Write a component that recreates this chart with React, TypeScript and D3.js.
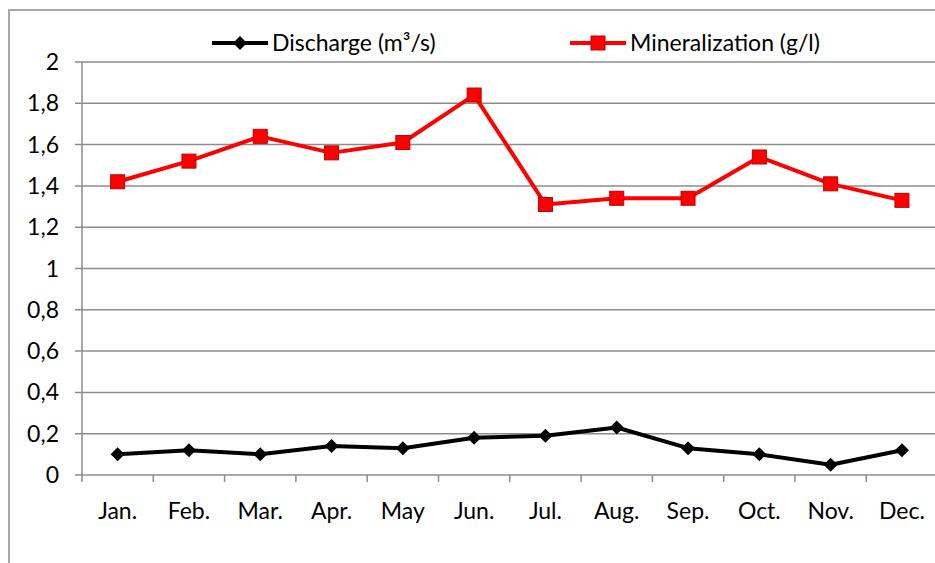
import React from "react";
import * as d3 from "d3";

const months = ["Jan.", "Feb.", "Mar.", "Apr.", "May", "Jun.", "Jul.", "Aug.", "Sep.", "Oct.", "Nov.", "Dec."];
const discharge = [0.10, 0.12, 0.10, 0.14, 0.13, 0.18, 0.19, 0.23, 0.13, 0.10, 0.05, 0.12];
const mineralization = [1.42, 1.52, 1.64, 1.56, 1.61, 1.84, 1.31, 1.34, 1.34, 1.54, 1.41, 1.33];
const yTicks = [0, 0.2, 0.4, 0.6, 0.8, 1, 1.2, 1.4, 1.6, 1.8, 2];

const W = 935, H = 563;
const left = 82, right = 937.6, top = 62, bottom = 475;
const font = "Lato, 'Open Sans', sans-serif";
const fs = 23;

export default function App() {
  const x = d3.scaleBand<string>().domain(months).range([left, right]);
  const y = d3.scaleLinear().domain([0, 2]).range([bottom, top]);
  const cx = (m: string) => (x(m) as number) + x.bandwidth() / 2;
  const line = d3.line<number>().x((_, i) => cx(months[i])).y((d) => y(d));
  const fmt = (v: number) => String(Math.round(v * 10) / 10).replace(".", ",");
  const boundaries = d3.range(13).map((i) => left + i * x.bandwidth());

  return (
    <svg width={W} height={H} style={{ position: "absolute", left: 0, top: 0, background: "#fff" }}>
      <rect x={9} y={10} width={W + 10} height={H + 10} fill="#fff" stroke="#8c8c8c" strokeWidth={1.5} />
      {yTicks.map((t) => (
        <g key={t}>
          <line x1={left - 7} x2={W} y1={y(t)} y2={y(t)} stroke="#8c8c8c" strokeWidth={1.5} />
          <text x={59} y={y(t)} dy="0.35em" textAnchor="end" fontFamily={font} fontSize={fs} fill="#000">
            {fmt(t)}
          </text>
        </g>
      ))}
      <line x1={left} x2={left} y1={top} y2={bottom} stroke="#8c8c8c" strokeWidth={1.5} />
      {boundaries.map((b, i) => (
        <line key={i} x1={b} x2={b} y1={bottom} y2={bottom + 7} stroke="#8c8c8c" strokeWidth={1.5} />
      ))}
      {months.map((m) => (
        <text key={m} x={cx(m)} y={519} textAnchor="middle" fontFamily={font} fontSize={fs} fill="#000">
          {m}
        </text>
      ))}
      <path d={line(discharge) || ""} fill="none" stroke="#000" strokeWidth={4} strokeLinejoin="round" />
      {discharge.map((v, i) => (
        <path key={i} d="M0,-7L7,0L0,7L-7,0Z" transform={`translate(${cx(months[i])},${y(v)})`} fill="#000" />
      ))}
      <path d={line(mineralization) || ""} fill="none" stroke="#ff0000" strokeWidth={4} strokeLinejoin="round" />
      {mineralization.map((v, i) => (
        <rect key={i} x={cx(months[i]) - 7} y={y(v) - 7} width={14} height={14} fill="#ff0000" stroke="#c00000" strokeWidth={1} />
      ))}
      {/* legend */}
      <g>
        <line x1={212} x2={268} y1={43} y2={43} stroke="#000" strokeWidth={4} />
        <path d="M0,-7L7,0L0,7L-7,0Z" transform="translate(240,43)" fill="#000" />
        <text x={272} y={43} dy="0.35em" fontFamily={font} fontSize={fs} fill="#000">Discharge (m³/s)</text>
        <line x1={570} x2={626} y1={43} y2={43} stroke="#ff0000" strokeWidth={4} />
        <rect x={591} y={36} width={14} height={14} fill="#ff0000" stroke="#c00000" strokeWidth={1} />
        <text x={630} y={43} dy="0.35em" fontFamily={font} fontSize={fs} fill="#000">Mineralization (g/l)</text>
      </g>
    </svg>
  );
}
